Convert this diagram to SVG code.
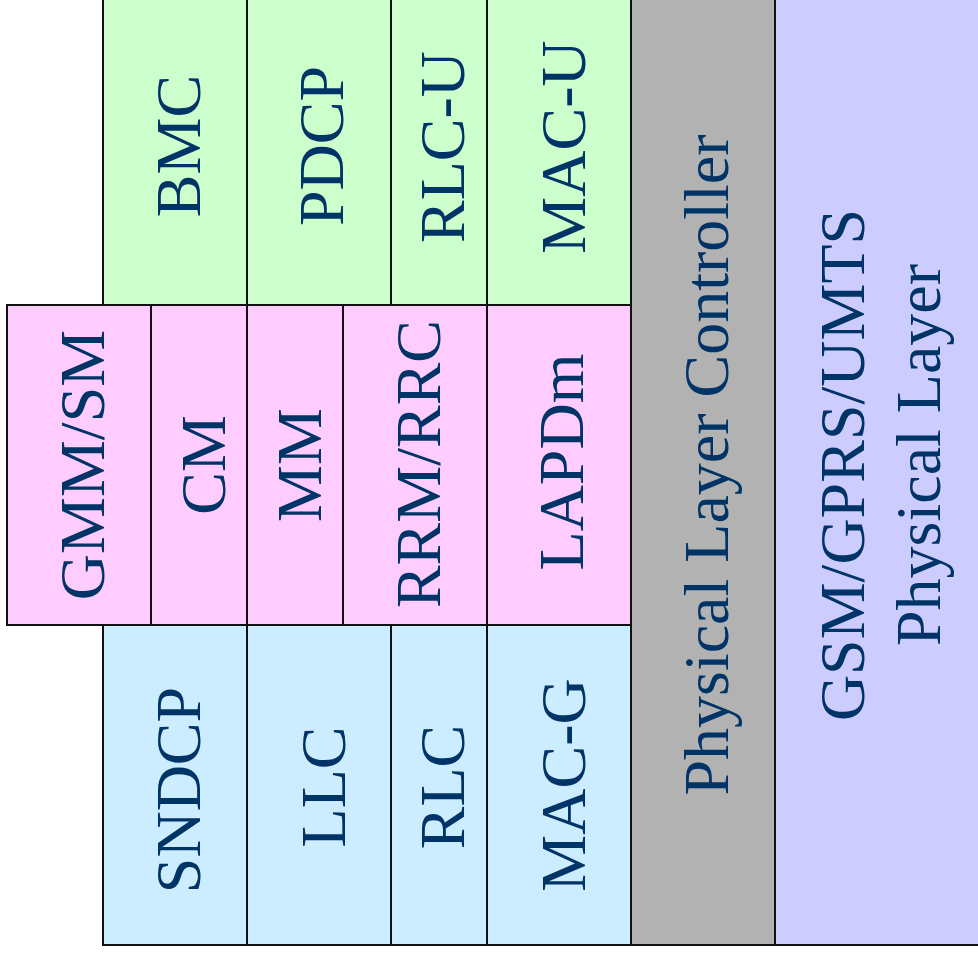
<svg xmlns="http://www.w3.org/2000/svg" width="978" height="956" viewBox="0 0 978 956">
<style>
.b{stroke:#111;stroke-width:2}
.g{fill:#CCFFCC}.p{fill:#FFCCFF}.c{fill:#CCECFF}.k{fill:#B2B2B2}.v{fill:#CCCCFF}
text{font-family:"Liberation Serif","Times New Roman",serif;font-size:64px;fill:#003366;text-anchor:middle}
</style>
<rect x="0" y="0" width="978" height="956" fill="#fff"/>
<g id="bmc"><rect class="b g" x="103" y="-2" width="144" height="307"/><text transform="translate(200,146) rotate(-90)">BMC</text></g>
<g id="pdcp"><rect class="b g" x="247" y="-2" width="144" height="307"/><text transform="translate(343,146) rotate(-90)">PDCP</text></g>
<g id="rlcu"><rect class="b g" x="391" y="-2" width="96" height="307"/><text transform="translate(464,147) rotate(-90)">RLC-U</text></g>
<g id="macu"><rect class="b g" x="487" y="-2" width="144" height="307"/><text transform="translate(585,147) rotate(-90)">MAC-U</text></g>
<g id="gmmsm"><rect class="b p" x="7" y="305" width="144" height="320"/><text transform="translate(104,465) rotate(-90)">GMM/SM</text></g>
<g id="cm"><rect class="b p" x="151" y="305" width="96" height="320"/><text transform="translate(225,465) rotate(-90)">CM</text></g>
<g id="mm"><rect class="b p" x="247" y="305" width="96" height="320"/><text transform="translate(321,465) rotate(-90)">MM</text></g>
<g id="rrm"><rect class="b p" x="343" y="305" width="144" height="320"/><text transform="translate(440,464) rotate(-90)">RRM/RRC</text></g>
<g id="lapdm"><rect class="b p" x="487" y="305" width="144" height="320"/><text transform="translate(583,462) rotate(-90)">LAPDm</text></g>
<g id="sndcp"><rect class="b c" x="103" y="625" width="144" height="320"/><text transform="translate(200,790) rotate(-90)">SNDCP</text></g>
<g id="llc"><rect class="b c" x="247" y="625" width="144" height="320"/><text transform="translate(345,787) rotate(-90)">LLC</text></g>
<g id="rlc"><rect class="b c" x="391" y="625" width="96" height="320"/><text transform="translate(464,787) rotate(-90)">RLC</text></g>
<g id="macg"><rect class="b c" x="487" y="625" width="144" height="320"/><text transform="translate(585,785) rotate(-90)">MAC-G</text></g>
<g id="plc"><rect class="b k" x="631" y="-2" width="144" height="947"/><text transform="translate(728,465) rotate(-90)">Physical Layer Controller</text></g>
<g id="phy"><rect class="b v" x="775" y="-2" width="215" height="947"/><text transform="translate(864,465) rotate(-90)">GSM/GPRS/UMTS</text><text transform="translate(940,455) rotate(-90)">Physical Layer</text></g>
<g id="connectors"/>
</svg>
